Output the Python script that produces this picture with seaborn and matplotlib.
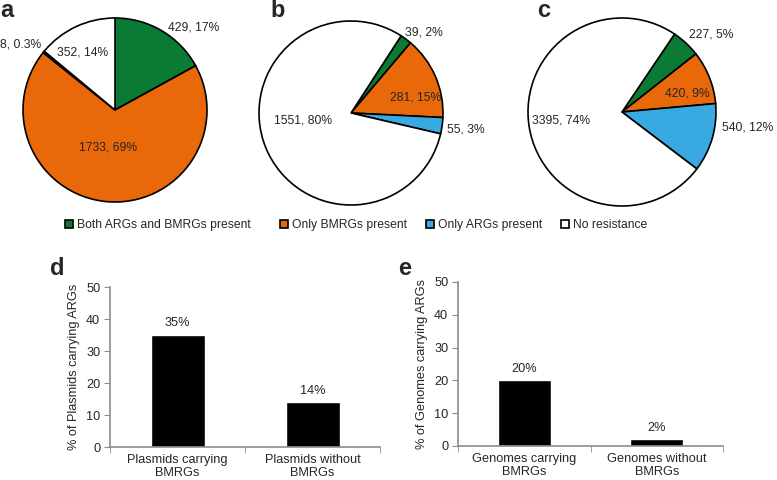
import matplotlib
matplotlib.use("Agg")
import matplotlib.pyplot as plt
from matplotlib.patches import Patch
import pandas as pd
import seaborn as sns

# ---- data ----
categories = ["Both ARGs and BMRGs present", "Only BMRGs present",
              "Only ARGs present", "No resistance"]

pie_a_counts = [429, 1733, 8, 352]
pie_a_pcts = ["17%", "69%", "0.3%", "14%"]
pie_b_counts = [39, 281, 55, 1551]
pie_b_pcts = ["2%", "15%", "3%", "80%"]
pie_c_counts = [227, 420, 540, 3395]
pie_c_pcts = ["5%", "9%", "12%", "74%"]

plasmid_groups = ["Plasmids carrying\nBMRGs", "Plasmids without\nBMRGs"]
plasmid_pct = [35, 14]
genome_groups = ["Genomes carrying\nBMRGs", "Genomes without\nBMRGs"]
genome_pct = [20, 2]

# ---- style ----
GREEN, ORANGE, BLUE, WHITE = "#0b7a35", "#e8680a", "#38aae1", "#ffffff"
GREY = "#8c8c8c"
W, H = 777, 480

sns.set_style("white")
plt.rcParams['font.family'] = ['Liberation Sans', 'DejaVu Sans']

fig = plt.figure(figsize=(W / 100, H / 100), dpi=100)


def pie_panel(cx, cy, r, counts, pcts, colors, start, label_pos):
    pad = 1.3
    half = r * pad
    ax = fig.add_axes([(cx - half) / W, (H - cy - half) / H, 2 * half / W, 2 * half / H])
    ax.pie(counts, colors=colors, startangle=start, counterclock=False,
           wedgeprops=dict(edgecolor="black", linewidth=1.2))
    ax.set_xlim(-pad, pad)
    ax.set_ylim(-pad, pad)
    ax.axis("off")
    for n, p, (x, y, ha) in zip(counts, pcts, label_pos):
        ax.text(x, y, f"{n}, {p}", ha=ha, va="center", fontsize=8.7)
    return ax


pie_panel(115, 110, 92, pie_a_counts, pie_a_pcts, [GREEN, ORANGE, "black", WHITE], 90,
          [(0.58, 0.90, "left"), (-0.08, -0.41, "center"),
           (-0.80, 0.71, "right"), (-0.35, 0.62, "center")])
pie_panel(351, 113, 92, pie_b_counts, pie_b_pcts, [GREEN, ORANGE, BLUE, WHITE], 57,
          [(0.59, 0.88, "left"), (0.70, 0.17, "center"),
           (1.04, -0.18, "left"), (-0.52, -0.08, "center")])
pie_panel(622, 112, 94, pie_c_counts, pie_c_pcts, [GREEN, ORANGE, BLUE, WHITE], 56,
          [(0.71, 0.82, "left"), (0.69, 0.20, "center"),
           (1.06, -0.17, "left"), (-0.65, -0.09, "center")])

# legend: first entry sits apart from the other three, as in the original
handles = [Patch(facecolor=c, edgecolor="black", linewidth=1.2)
           for c in [GREEN, ORANGE, BLUE, WHITE]]
leg_kw = dict(loc="center left", frameon=False, fontsize=8.7, handlelength=0.7,
              handleheight=0.7, handletextpad=0.3, columnspacing=1.55,
              borderpad=0, borderaxespad=0)
fig.legend(handles[:1], categories[:1], bbox_to_anchor=(65 / W, (H - 225) / H),
           ncol=1, **leg_kw)
fig.legend(handles[1:], categories[1:], bbox_to_anchor=(280 / W, (H - 225) / H),
           ncol=3, **leg_kw)


def bar_panel(left, right, y0, y50, groups, values, ylabel):
    ax = fig.add_axes([left / W, (H - y0) / H, (right - left) / W, (y0 - y50) / H])
    df = pd.DataFrame({"group": groups, "pct": values})
    sns.barplot(data=df, x="group", y="pct", color="black", saturation=1,
                width=0.4, ax=ax)
    ax.set_xlim(-0.5, 1.5)
    ax.set_ylim(0, 50)
    ax.set_yticks(range(0, 51, 10))
    ax.set_xticks([-0.5, 0.5, 1.5], minor=True)
    for s in ["top", "right"]:
        ax.spines[s].set_visible(False)
    for s in ["left", "bottom"]:
        ax.spines[s].set_color(GREY)
        ax.spines[s].set_linewidth(1.2)
    ax.tick_params(axis="y", left=True, direction="out", length=4, color=GREY,
                   labelsize=9.2, pad=3)
    ax.tick_params(axis="x", which="major", bottom=True, length=0, labelsize=9.2, pad=5)
    ax.tick_params(axis="x", which="minor", bottom=True, direction="out", length=4,
                   color=GREY)
    for lab in ax.get_xticklabels():
        lab.set_linespacing(1.1)
    ax.set_xlabel("")
    ax.set_ylabel(ylabel, fontsize=9.2, labelpad=4)
    for i, v in enumerate(values):
        ax.annotate(f"{v}%", (i, v), xytext=(0, 4), textcoords="offset points",
                    ha="center", va="bottom", fontsize=9.2)
    return ax


bar_panel(110, 380, 447, 287, plasmid_groups, plasmid_pct, "% of Plasmids carrying ARGs")
bar_panel(458, 723, 446, 282, genome_groups, genome_pct, "% of Genomes carrying ARGs")

for letter, x, y in [("a", 0, 17), ("b", 270, 17), ("c", 537, 17), ("d", 50, 275), ("e", 398, 275)]:
    fig.text(x / W, (H - y) / H, letter, fontsize=17, fontweight="bold", va="baseline")

fig.savefig("out.png", dpi=100)
